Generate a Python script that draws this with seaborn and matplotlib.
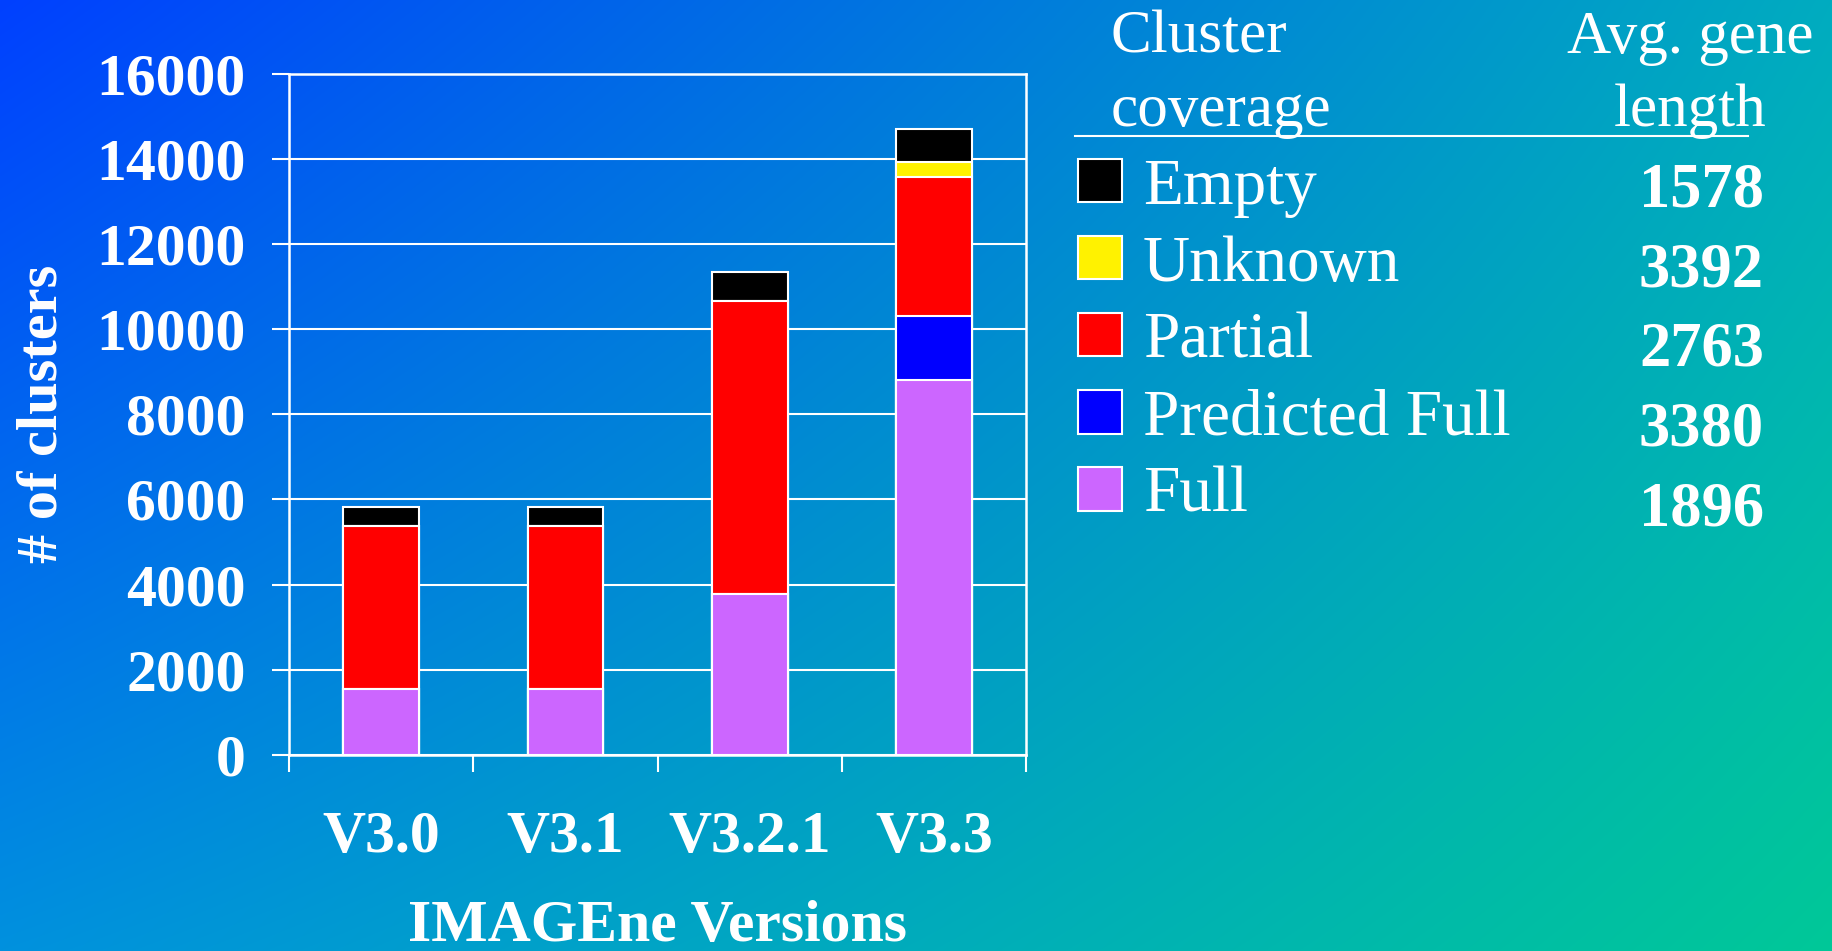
import numpy as np
import pandas as pd
import matplotlib
matplotlib.use("Agg")
import matplotlib.pyplot as plt
import seaborn as sns
from matplotlib.patches import Patch
from matplotlib.lines import Line2D

# data (clusters per coverage class, stacked bottom -> top)
versions = ["V3.0", "V3.1", "V3.2.1", "V3.3"]
full = [1560, 1560, 3770, 8810]
predicted_full = [0, 0, 0, 1510]
partial = [3820, 3820, 6900, 3250]
unknown = [0, 0, 0, 350]
empty = [450, 450, 670, 780]

# legend table (top -> bottom)
categories = ["Empty", "Unknown", "Partial", "Predicted Full", "Full"]
colors = ["#000000", "#FFF200", "#FF0000", "#0000FF", "#CC66FF"]
avg_gene_length = [1578, 3392, 2763, 3380, 1896]

df = pd.DataFrame({"version": versions, "Full": full, "Predicted Full": predicted_full,
                   "Partial": partial, "Unknown": unknown, "Empty": empty})
stack_order = ["Full", "Predicted Full", "Partial", "Unknown", "Empty"]
cum = df[stack_order].cumsum(axis=1)
color_map = dict(zip(categories, colors))

plt.rcParams["font.family"] = ["Liberation Serif", "DejaVu Serif"]
fig = plt.figure(figsize=(18.33, 9.51), dpi=100)

# diagonal blue -> green background
H, W = 951, 1833
u = np.linspace(0, 1, W)[None, :, None]
v = np.linspace(0, 1, H)[:, None, None]
tl = np.array([0, 64, 255]) / 255
tr = np.array([0, 172, 192]) / 255
bl = np.array([0, 145, 222]) / 255
br = np.array([0, 200, 152]) / 255
grad = (1 - u) * (1 - v) * tl + u * (1 - v) * tr + (1 - u) * v * bl + u * v * br
bg = fig.add_axes([0, 0, 1, 1], zorder=-1)
bg.imshow(grad, aspect="auto")
bg.axis("off")

ax = fig.add_axes([0.1575, 0.2061, 0.4025, 0.7165])
ax.set_facecolor("none")

# stacked bars: draw cumulative totals from the top down so lower segments sit on top
for name in reversed(stack_order):
    sns.barplot(x=df["version"], y=cum[name], color=color_map[name], width=0.41,
                saturation=1, edgecolor="white", linewidth=1.5, ax=ax)

ax.set_xlim(-0.5, 3.5)
ax.set_ylim(0, 16000)
ax.set_yticks(range(0, 16001, 2000))
ax.set_xticks(range(len(versions)))
ax.set_xticklabels(versions)
ax.set_xticks(np.arange(-0.5, len(versions), 1), minor=True)
ax.tick_params(axis="x", which="major", length=0, pad=40, labelsize=43, labelcolor="white")
ax.tick_params(axis="x", which="minor", length=12.5, width=1.5, color="white")
ax.tick_params(axis="y", length=12.6, width=1.5, color="white", pad=18.4,
               labelsize=43, labelcolor="white")
for lab in ax.get_xticklabels() + ax.get_yticklabels():
    lab.set_fontweight("bold")

ax.grid(axis="y", color="white", linewidth=1.5)
ax.grid(axis="x", visible=False)
ax.set_axisbelow(True)
for s in ax.spines.values():
    s.set_color("white")
    s.set_linewidth(1.8)

ax.set_ylabel("# of clusters", fontsize=42, fontweight="bold", color="white", va="center")
ax.yaxis.set_label_coords(-0.334, 0.5)
ax.set_xlabel("IMAGEne Versions", fontsize=43, fontweight="bold", color="white", va="center")
ax.xaxis.set_label_coords(0.5, -0.252)

# legend as a small table
handles = [Patch(facecolor=c, edgecolor="white", linewidth=1.5) for c in colors]
fig.legend(handles, categories, loc="upper left", bbox_to_anchor=(1077.5 / W, 1 - 158 / H),
           frameon=False, fontsize=47, labelcolor="white", handlelength=0.68,
           handleheight=0.64, handletextpad=0.32, labelspacing=0.27,
           borderpad=0, borderaxespad=0)

hdr = dict(fontsize=44, color="white", va="baseline")
fig.text(1110.6 / W, 1 - 52.6 / H, "Cluster", **hdr)
fig.text(1110.6 / W, 1 - 126 / H, "coverage", **hdr)
fig.text(1690 / W, 1 - 52.6 / H, "Avg. gene", ha="center", **hdr)
fig.text(1690 / W, 1 - 126 / H, "length", ha="center", **hdr)
fig.add_artist(Line2D([1075.5 / W, 1747.6 / W], [1 - 135.6 / H] * 2, color="white",
                      linewidth=1.5, transform=fig.transFigure))

for i, val in enumerate(avg_gene_length):
    fig.text(1764 / W, 1 - (206.4 + i * 79.8) / H, str(val), ha="right", va="baseline",
             fontsize=45, fontweight="bold", color="white")

fig.savefig("out.png", dpi=100)
